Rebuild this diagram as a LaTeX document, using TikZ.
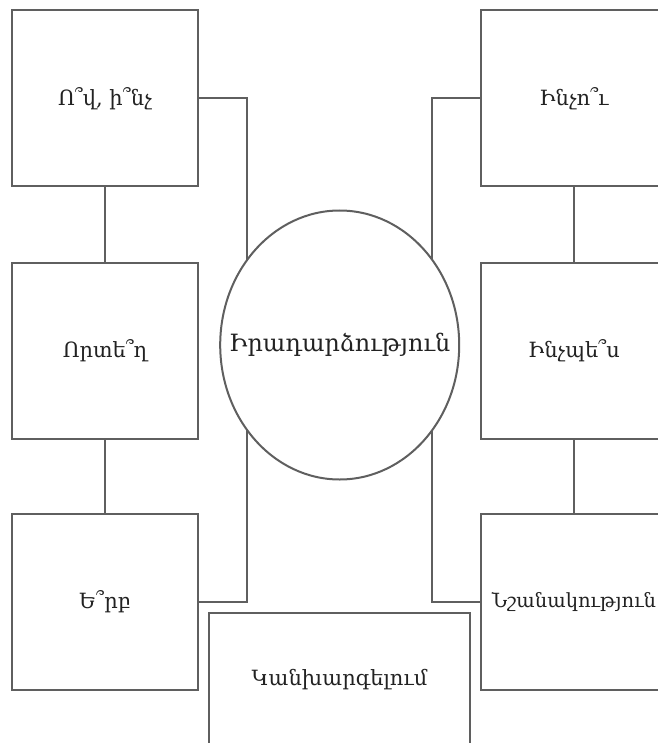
\documentclass[tikz,border=0pt]{standalone}
\usepackage{fontspec}
\setmainfont{DejaVu Serif}
\usetikzlibrary{shapes.geometric}
\pgfdeclarelayer{bg}
\pgfsetlayers{bg,main}
\definecolor{lc}{HTML}{5F5F5F}
\definecolor{tc}{HTML}{222222}
\tikzset{
  qbox/.style={draw=lc, line width=2pt, fill=white, rectangle, inner sep=0pt,
    minimum width=186pt, minimum height=176pt, text=tc, font=\fontsize{21}{24}\selectfont},
  hub/.style={draw=lc, line width=2pt, fill=white, ellipse, inner sep=0pt,
    minimum width=239pt, minimum height=269pt},
  hubtext/.style={inner sep=0pt, text=tc, font=\fontsize{23.8}{27}\selectfont},
  link/.style={draw=lc, line width=2pt}
}
\begin{document}
\begin{tikzpicture}[x=1pt,y=-1pt]
\useasboundingbox (0,0) rectangle (657,743);
\node[qbox] (who) at (105,98.3) {Ո՞վ, ի՞նչ};
\node[qbox] (where) at (105,351) {Որտե՞ղ};
\node[qbox] (when) at (105,602) {Ե՞րբ};
\node[qbox] (why) at (574,98.3) {Ինչո՞ւ};
\node[qbox] (how) at (574,351) {Ինչպե՞ս};
\node[qbox, font=\fontsize{19.5}{22}\selectfont] (meaning) at (574,602) {Նշանակություն};
\node[hub] (event) at (339.7,345) {};
\node[hubtext] (eventlabel) at (event.center) {Իրադարձություն};
\node[qbox, minimum width=261pt, minimum height=134pt] (prev) at (339.5,680) {Կանխարգելում};
\begin{pgfonlayer}{bg}
\draw[link] (who) -- (where);
\draw[link] (where) -- (when);
\draw[link] (why) -- (how);
\draw[link] (how) -- (meaning);
\draw[link] (who.east) -- ++(48,0) |- (when.east);
\draw[link] (why.west) -- ++(-48,0) |- (meaning.west);
\end{pgfonlayer}
\end{tikzpicture}
\end{document}
